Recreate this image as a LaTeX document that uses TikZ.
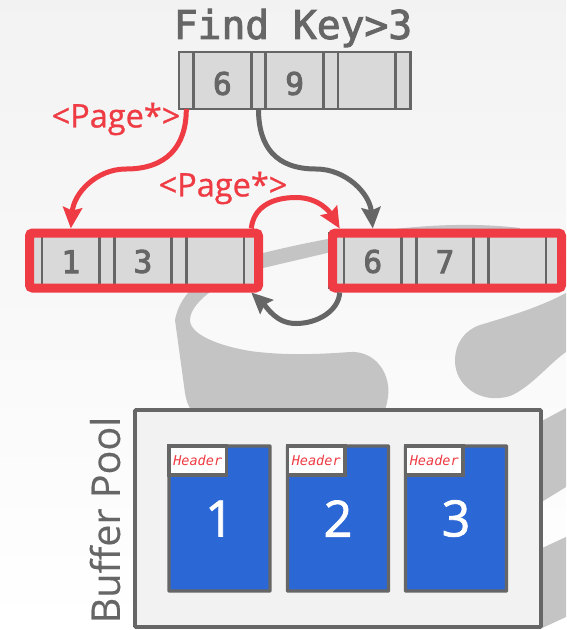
\documentclass[tikz,border=0pt]{standalone}
\usepackage{fontspec}
\usetikzlibrary{arrows.meta,positioning,calc}
\setmainfont{Open Sans}
\newfontfamily\monofam{DejaVu Sans Mono}
\newfontfamily\monoheavy[FakeBold=2.4]{DejaVu Sans Mono}
\newfontfamily\digitfam[FakeBold=3.2]{DejaVu Sans Mono}
\newfontfamily\sansheavy[FakeBold=0.8]{Open Sans}
\newfontfamily\whitefam[FakeBold=1.6]{Open Sans}
\newfontfamily\sansmid[FakeBold=0.3]{Open Sans}
\definecolor{ink}{HTML}{666666}
\definecolor{cellfill}{HTML}{D9D9D9}
\definecolor{hot}{HTML}{EF3B43}
\definecolor{swoosh}{HTML}{C4C4C4}
\definecolor{poolfill}{HTML}{F2F2F2}
\definecolor{pageblue}{HTML}{2B68D6}
\tikzset{
  x=1pt,y=-1pt,
  slotcell/.style={draw=ink,fill=cellfill,line width=2.7pt,inner sep=0pt,outer sep=0pt,minimum width=14.6pt,minimum height=55pt},
  keycell/.style={slotcell,minimum width=57.6pt,text=ink,font=\digitfam\fontsize{31}{31}\selectfont,text height=25pt},
  topslot/.style={slotcell,minimum height=57pt},
  topkey/.style={keycell,minimum height=57pt,text height=29pt},
  frame/.style={draw=hot,line width=9pt,rounded corners=3pt,inner sep=0pt,minimum width=229pt,minimum height=55pt},
  redlink/.style={draw=hot,line width=5pt,-{Stealth[length=21pt,width=19pt,inset=3pt]}},
  graylink/.style={draw=ink,line width=5pt,-{Stealth[length=21pt,width=19pt,inset=3pt]}},
  pagelabel/.style={text=hot,font=\sansheavy\fontsize{32.5}{33}\selectfont,inner sep=0pt},
  pool/.style={draw=ink,fill=poolfill,line width=3.6pt,inner sep=0pt,minimum width=406pt,minimum height=217pt,rounded corners=1pt},
  bufpage/.style={draw=ink,fill=pageblue,line width=3.2pt,inner sep=0pt,minimum width=101pt,minimum height=145pt,text=white,rounded corners=0.5pt,font=\whitefam\fontsize{50}{50}\selectfont},
  header/.style={draw=ink,fill=white,line width=3.2pt,inner sep=0pt,minimum width=57.5pt,minimum height=29pt,text=hot,font=\monofam\itshape\fontsize{13.5}{14}\selectfont},
}
\begin{document}
\begin{tikzpicture}
\useasboundingbox (0,0) rectangle (566,630);
\shade[top color=black!5,bottom color=white] (0,0) rectangle (566,630);
% logo behind everything
\fill[swoosh] (520,228) .. controls (470,222) and (390,222) .. (263,253)
  .. controls (225,263) and (182,282) .. (175,320) -- (185,393)
  .. controls (186,400) and (188,405) .. (191,410) -- (385,410)
  .. controls (388,400) and (389,393) .. (388,385)
  .. controls (385,365) and (370,351) .. (350,352)
  .. controls (310,355) and (280,355) .. (250,351)
  .. controls (220,346) and (190,335) .. (190,320)
  .. controls (190,300) and (230,275) .. (263,268) -- (340,250) -- (520,240) -- cycle;
\fill[swoosh] (566,293) .. controls (540,307) and (510,316) .. (480,325)
  .. controls (465,330) and (455,343) .. (455,361)
  .. controls (455,385) and (480,405) .. (510,396)
  .. controls (530,388) and (550,363) .. (566,352) -- cycle;
\fill[swoosh] (540,422) -- (566,408) -- (566,487) -- (540,503) -- cycle;
\fill[swoosh] (540,549) -- (566,537) -- (566,617) -- (540,629) -- cycle;
% title
\node[inner sep=0pt,text=ink,font=\monoheavy\fontsize{39.6}{39}\selectfont] (title) at (293,28) {Find Key>3};
% inner node
\node[topslot] (t0) at (186.3,80.5) {};
\node[topkey,right=0pt of t0] (t1) {6};
\node[topslot,right=0pt of t1] (t2) {};
\node[topkey,right=0pt of t2] (t3) {9};
\node[topslot,right=0pt of t3] (t4) {};
\node[topkey,right=0pt of t4] (t5) {};
\node[topslot,right=0pt of t5] (t6) {};
% left leaf
\node[slotcell] (a0) at (34.7,260.5) {};
\node[keycell,right=0pt of a0] (a1) {1};
\node[slotcell,right=0pt of a1] (a2) {};
\node[keycell,right=0pt of a2] (a3) {3};
\node[slotcell,right=0pt of a3] (a4) {};
\node[keycell,right=0pt of a4] (a5) {};
\node[slotcell,right=0pt of a5] (a6) {};
\node[frame] (leafL) at (144,260.5) {};
% right leaf
\node[slotcell] (b0) at (336.7,260.5) {};
\node[keycell,right=0pt of b0] (b1) {6};
\node[slotcell,right=0pt of b1] (b2) {};
\node[keycell,right=0pt of b2] (b3) {7};
\node[slotcell,right=0pt of b3] (b4) {};
\node[keycell,right=0pt of b4] (b5) {};
\node[slotcell,right=0pt of b5] (b6) {};
\node[frame] (leafR) at (447,260.5) {};
% bends
\coordinate (bendL) at (126,169);
\coordinate (bendR) at (316,169);
\coordinate (peak) at (296,197.5);
\coordinate (trough) at (296,323.5);
% links
\draw[redlink] (t0.south) .. controls ++(0,38) and ++(40,0) .. (bendL)
  .. controls ++(-30,0) and ++(3,-35) .. (a1.center |- leafL.north);
\draw[graylink] (t2.south) .. controls ++(0,38) and ++(-40,0) .. (bendR)
  .. controls ++(30,0) and ++(-3,-35) .. (b1.center |- leafR.north);
\draw[redlink] (a6.center |- leafL.north) .. controls ++(2,-20) and ++(-26,0) .. (peak)
  .. controls ++(24,0) and ++(-9,-15) .. ($(b0.center |- leafR.north)+(3,0)$);
\draw[graylink] ($(b0.center |- leafR.south)+(3,0)$) .. controls ++(-1,18) and ++(22,0) .. (trough)
  .. controls ++(-20,0) and ++(16,15) .. (a6.center |- leafL.south);
\node[pagelabel] (p1) at (116,119) {<Page*>};
\node[pagelabel] (p2) at (223,188) {<Page*>};
% buffer pool
\node[pool] (bp) at (338,518.5) {};
\node[text=ink,rotate=90,inner sep=0pt,font=\sansmid\fontsize{39.5}{39}\selectfont] (bpl) at (105,520) {Buffer Pool};
\node[bufpage] (p1box) at (219.5,518.5) {1};
\node[bufpage] (p2box) at (338,518.5) {2};
\node[bufpage] (p3box) at (456,518.5) {3};
\node[header,anchor=north west] (h1) at (p1box.north west) {Header};
\node[header,anchor=north west] (h2) at (p2box.north west) {Header};
\node[header,anchor=north west] (h3) at (p3box.north west) {Header};
\end{tikzpicture}
\end{document}
